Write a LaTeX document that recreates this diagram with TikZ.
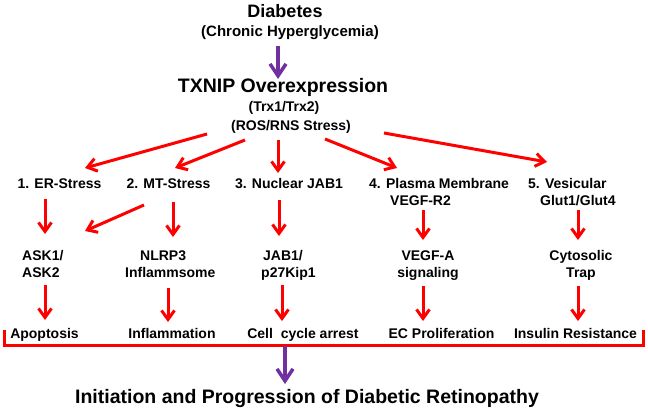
\documentclass[tikz,border=0pt]{standalone}
\usepackage{fontspec}
\setmainfont{Liberation Sans}
\usetikzlibrary{arrows.meta}

\definecolor{arrowred}{RGB}{255,0,0}
\definecolor{arrowpurple}{RGB}{112,48,160}

\tikzstyle{redline} = [draw=arrowred,line width=3pt,-{Straight Barb[length=9pt,width=13pt]}]
\tikzstyle{purpleline} = [draw=arrowpurple,line width=3.5pt,-{Straight Barb[length=12pt,width=16pt]}]
\tikzstyle{txt} = [inner sep=0pt,anchor=base,font=\bfseries\fontsize{14}{17}\selectfont]

\begin{document}
\begin{tikzpicture}[x=1pt,y=-1pt]
\useasboundingbox (0,0) rectangle (648,410);
% top
\node[txt,font=\bfseries\fontsize{18}{20}\selectfont] (diab) at (285,17) {Diabetes};
\node[txt,font=\bfseries\fontsize{15}{17}\selectfont] (chron) at (290,36.5) {(Chronic Hyperglycemia)};
\node[txt,font=\bfseries\fontsize{19.5}{22}\selectfont] (txnip) at (283,92.5) {TXNIP Overexpression};
\node[txt] (trx) at (284,111) {(Trx1/Trx2)};
\node[txt] (ros) at (291,130.5) {(ROS/RNS Stress)};
% sites
\node[txt] (er) at (59.5,188.3) {1. ER-Stress};
\node[txt] (mt) at (168.5,188.3) {2. MT-Stress};
\node[txt] (nuc) at (289,188.3) {3. Nuclear JAB1};
\node[txt,anchor=base west,align=left] (pm) at (369,205) {4. Plasma Membrane\\\hspace*{21pt}VEGF-R2};
\node[txt,anchor=base west,align=left] (ves) at (528,205) {5. Vesicular\\\hspace*{12pt}Glut1/Glut4};
% mediators
\node[txt,anchor=base west,align=left] (ask) at (22,277.3) {ASK1/\\ASK2};
\node[txt,anchor=base west,align=left] (nlrp) at (125,277.3) {\hspace*{15pt}NLRP3\\Inflammsome};
\node[txt,anchor=base west,align=left] (jab) at (261,277.3) {\hspace*{2pt}JAB1/\\p27Kip1};
\node[txt,align=center] (vegfa) at (428,277.3) {VEGF-A\\signaling};
\node[txt,align=center] (cyto) at (581,277.3) {Cytosolic\\Trap};
% outcomes
\node[txt] (apo) at (44.5,338.3) {Apoptosis};
\node[txt] (infl) at (172,338.3) {Inflammation};
\node[txt] (cell) at (303,338.3) {Cell\ \ cycle arrest};
\node[txt] (ecp) at (441.5,338.3) {EC Proliferation};
\node[txt] (ins) at (575.5,338.3) {Insulin Resistance};
\node[txt,font=\bfseries\fontsize{19.5}{22}\selectfont] (retino) at (307,403.3) {Initiation and Progression of Diabetic Retinopathy};

\draw[purpleline] ([shift={(-12,9.5)}]chron.base) -- ([shift={(-5,-13.5)}]txnip.base);

\draw[redline] ([shift={(-84,3.5)}]ros.base) -- ([shift={(25.5,-20.3)}]er.base);
\draw[redline] ([shift={(-46,9.5)}]ros.base) -- ([shift={(6.5,-20.3)}]mt.base);
\draw[redline] ([shift={(-13,9.5)}]ros.base) -- ([shift={(-11,-15.3)}]nuc.base);
\draw[redline] ([shift={(34,8.5)}]ros.base) -- ([shift={(28,-37)}]pm.base west);
\draw[redline] ([shift={(93,2.5)}]ros.base) -- ([shift={(19,-43)}]ves.base west);

\draw[redline] ([shift={(-14.5,10.7)}]er.base) -- ([shift={(23,-43.3)}]ask.base west);
\draw[redline] ([shift={(-24.5,16.7)}]mt.base) -- ([shift={(63,-46.3)}]ask.base west);
\draw[redline] ([shift={(4.5,13.7)}]mt.base) -- ([shift={(48,-40.3)}]nlrp.base west);
\draw[redline] ([shift={(-10,11.7)}]nuc.base) -- ([shift={(18,-41.3)}]jab.base west);
\draw[redline] ([shift={(54,5)}]pm.base west) -- ([shift={(-5,-37.3)}]vegfa.base);
\draw[redline] ([shift={(50,5)}]ves.base west) -- ([shift={(-3,-37.3)}]cyto.base);

\draw[redline] ([shift={(23,7.7)}]ask.base west) -- ([shift={(0.5,-18.3)}]apo.base);
\draw[redline] ([shift={(43,10.7)}]nlrp.base west) -- ([shift={(-4,-16.3)}]infl.base);
\draw[redline] ([shift={(21,7.7)}]jab.base west) -- ([shift={(-21,-17.3)}]cell.base);
\draw[redline] ([shift={(-5,8.7)}]vegfa.base) -- ([shift={(-18.5,-17.3)}]ecp.base);
\draw[redline] ([shift={(-3,8.7)}]cyto.base) -- ([shift={(2.5,-17.3)}]ins.base);

% bracket
\draw[arrowred,line width=3pt] ([shift={(-6,-8.3)}]apo.base west) -- ++(0,15.5) -| ([shift={(6,-8.3)}]ins.base east);
\coordinate (brk) at (285,345.5);
\draw[purpleline] (brk) -- ([shift={(-22,-19.3)}]retino.base);
\end{tikzpicture}
\end{document}
